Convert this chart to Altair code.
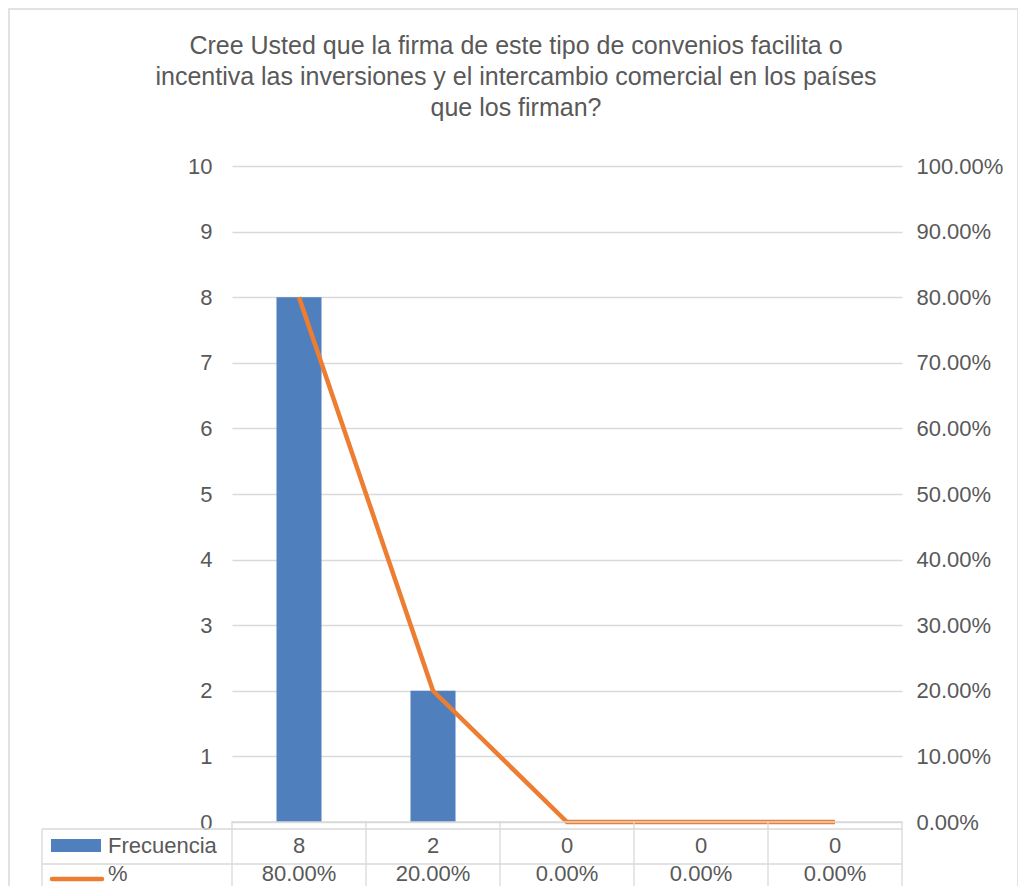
import altair as alt
import pandas as pd

categorias = ["Opción 1", "Opción 2", "Opción 3", "Opción 4", "Opción 5"]
frecuencia = [8, 2, 0, 0, 0]
porcentaje = [0.80, 0.20, 0.0, 0.0, 0.0]
fila_frecuencia = ["8", "2", "0", "0", "0"]
fila_porcentaje = ["80.00%", "20.00%", "0.00%", "0.00%", "0.00%"]
serie_nombres = ["Frecuencia", "%"]
titulo = ["Cree Usted que la firma de este tipo de convenios facilita o",
          "incentiva las inversiones y el intercambio comercial en los países",
          "que los firman?"]

FONT = "Liberation Sans"
TXT = "#595959"
GRID = "#D9D9D9"
BLUE = "#4F7FBD"
ORANGE = "#ED7D31"
FS = 22

df = pd.DataFrame({"cat": categorias, "frec": frecuencia, "pct": porcentaje,
                   "tf": fila_frecuencia, "tp": fila_porcentaje})
dummy = pd.DataFrame({"a": [0]})
df_title = pd.DataFrame({"t": titulo, "i": [0, 1, 2]})

xs = alt.Scale(domain=categorias, paddingInner=0, paddingOuter=0)
x = alt.X("cat:N", sort=categorias, scale=xs, axis=None)

bars = alt.Chart(df).mark_bar(color=BLUE, size=45).encode(
    x=x,
    y=alt.Y("frec:Q", scale=alt.Scale(domain=[0, 10]),
            axis=alt.Axis(title=None, values=list(range(0, 11)), grid=True, gridColor=GRID,
                          gridWidth=1.3, ticks=False, tickSize=0, domain=False, labelPadding=20,
                          labelFontSize=FS, labelColor=TXT, labelFont=FONT, orient="left")),
)

line = alt.Chart(df).mark_line(color=ORANGE, strokeWidth=4.5).encode(
    x=x,
    y=alt.Y("pct:Q", scale=alt.Scale(domain=[0, 1]),
            axis=alt.Axis(title=None, values=[i / 10 for i in range(11)], format=".2%", grid=False,
                          ticks=False, tickSize=0, domain=False, labelPadding=14,
                          labelFontSize=FS, labelColor=TXT, labelFont=FONT, orient="right")),
)

title_marks = alt.Chart(df_title).mark_text(fontSize=25, font=FONT, color=TXT, align="center",
                                            baseline="middle").encode(
    x=alt.value(284),
    y=alt.Y("i:Q", scale=alt.Scale(domain=[0, 2], range=[-120, -58]), axis=None),
    text="t:N")

# table / frame decorations
axis_line = alt.Chart(dummy).mark_rule(color=GRID, strokeWidth=1.3).encode(
    x=alt.value(0), x2=alt.value(670), y=alt.value(656))
top_line = alt.Chart(dummy).mark_rule(color=GRID, strokeWidth=1.3).encode(
    x=alt.value(-190), x2=alt.value(670), y=alt.value(663))
sep_line = alt.Chart(dummy).mark_rule(color=GRID, strokeWidth=1.3).encode(
    x=alt.value(-190), x2=alt.value(670), y=alt.value(698))
left_line = alt.Chart(dummy).mark_rule(color=GRID, strokeWidth=1.3).encode(
    x=alt.value(-190), y=alt.value(663), y2=alt.value(740))
vlines = alt.Chart(df).mark_rule(color=GRID, strokeWidth=1.3).encode(
    x=alt.X("cat:N", sort=categorias, scale=xs, axis=None, bandPosition=0),
    y=alt.value(655), y2=alt.value(740))
vlast = alt.Chart(df.tail(1)).mark_rule(color=GRID, strokeWidth=1.3).encode(
    x=alt.X("cat:N", sort=categorias, scale=xs, axis=None, bandPosition=1),
    y=alt.value(655), y2=alt.value(740))

row1 = alt.Chart(df).mark_text(fontSize=FS, font=FONT, color=TXT, baseline="middle").encode(
    x=x, y=alt.value(680), text="tf:N")
row2 = alt.Chart(df).mark_text(fontSize=FS, font=FONT, color=TXT, baseline="middle").encode(
    x=x, y=alt.value(708), text="tp:N")

swatch = alt.Chart(dummy).mark_rect(color=BLUE).encode(
    x=alt.value(-181), x2=alt.value(-131), y=alt.value(673), y2=alt.value(686))
swline = alt.Chart(dummy).mark_rule(color=ORANGE, strokeWidth=4.5, strokeCap="round").encode(
    x=alt.value(-180), x2=alt.value(-130), y=alt.value(713))
lab1 = alt.Chart(dummy).mark_text(fontSize=FS, font=FONT, color=TXT, align="left", baseline="middle",
                                  text=serie_nombres[0]).encode(x=alt.value(-124), y=alt.value(680))
lab2 = alt.Chart(dummy).mark_text(fontSize=FS, font=FONT, color=TXT, align="left", baseline="middle",
                                  text=serie_nombres[1]).encode(x=alt.value(-124), y=alt.value(708))

frame = alt.Chart(dummy).mark_rect(fill=None, stroke=GRID, strokeWidth=1.5).encode(
    x=alt.value(-223), x2=alt.value(786), y=alt.value(-157), y2=alt.value(760))

chart = alt.layer(
    frame, bars, line, title_marks, axis_line, top_line, sep_line, left_line, vlines, vlast,
    row1, row2, swatch, swline, lab1, lab2
).resolve_scale(y="independent").properties(
    width=670, height=656,
    autosize=alt.AutoSizeParams(type="none"),
    padding={"left": 224, "top": 158, "right": 116, "bottom": 64},
).configure_view(stroke=None)

chart.save("out.html", embed_options={"renderer": "svg", "actions": False})
